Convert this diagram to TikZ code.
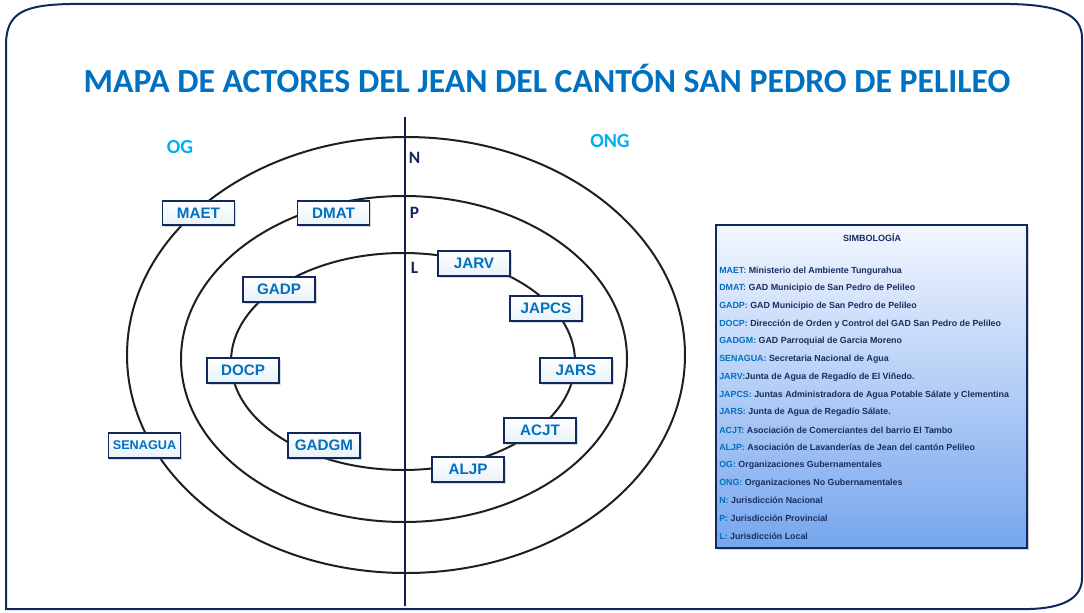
\documentclass[tikz,border=0pt]{standalone}
\usepackage{fontspec}
\setmainfont{Liberation Sans}
\newfontfamily\calibri{Carlito}
\usetikzlibrary{shadows}
\definecolor{ActorBlue}{RGB}{0,112,192}
\definecolor{SkyBlue}{RGB}{0,176,240}
\definecolor{NavyLine}{RGB}{16,40,92}
\definecolor{LegendText}{RGB}{25,45,95}
\definecolor{LegendTop}{RGB}{242,246,254}
\definecolor{LegendBottom}{RGB}{118,166,238}
\tikzset{
  actor/.style={draw=NavyLine,line width=1.3pt,minimum width=54pt,minimum height=18.5pt,inner sep=0pt,
    top color=white,bottom color=ActorBlue!9,text=ActorBlue,font=\bfseries\fontsize{11.4}{13}\selectfont,
    drop shadow={shadow xshift=1.3pt,shadow yshift=-1.3pt,opacity=0.3}},
  ring/.style={line width=1.5pt,black!88},
  level/.style={text=NavyLine,font=\calibri\bfseries\fontsize{13}{15}\selectfont},
  group/.style={text=SkyBlue,font=\calibri\bfseries\fontsize{15}{17}\selectfont},
  legline/.style={anchor=west,inner sep=0pt,text=LegendText,font=\bfseries\fontsize{6.65}{8}\selectfont}
}
\begin{document}
\begin{tikzpicture}[x=0.75pt,y=-0.75pt]
  \useasboundingbox (0,0) rectangle (1084,613);
  \draw[NavyLine,line width=1.5pt] (6,609) -- (6,45) .. controls (6,12) and (25,5) .. (70,4) -- (1010,4)
     .. controls (1060,5) and (1082,15) .. (1082,38) -- (1082,578) .. controls (1082,600) and (1060,608) .. (1030,609) -- cycle;
  \node[text=ActorBlue,font=\calibri\bfseries\fontsize{25.3}{28}\selectfont] (title) at (547,78)
     {MAPA DE ACTORES DEL JEAN DEL CANTÓN SAN PEDRO DE PELILEO};

  \draw[ring] (406,355) ellipse [x radius=279, y radius=218];
  \draw[ring] (404,359) ellipse [x radius=223, y radius=163];
  \draw[ring] (403,361.5) ellipse [x radius=172, y radius=108.5];
  \coordinate (axistop) at (405,117);
  \coordinate (axisbot) at (405,606);
  \draw[NavyLine!80!black,line width=1.8pt] (axistop) -- (axisbot);

  \node[level] (N) at (414.5,158) {N};
  \node[level] (P) at (414.5,213) {P};
  \node[level] (L) at (414.5,268) {L};
  \node[group] (OG) at (180,147) {OG};
  \node[group] (ONG) at (610,141) {ONG};

  \node[actor] (MAET) at (198.5,213) {MAET};
  \node[actor] (DMAT) at (333.5,213) {DMAT};
  \node[actor] (GADP) at (279,289.5) {GADP};
  \node[actor] (DOCP) at (243,370.5) {DOCP};
  \node[actor,font=\bfseries\fontsize{9.5}{11}\selectfont] (SENAGUA) at (144.5,445.5) {SENAGUA};
  \node[actor] (GADGM) at (324,445.5) {GADGM};
  \node[actor] (JARV) at (474,263.5) {JARV};
  \node[actor] (JAPCS) at (546,308.5) {JAPCS};
  \node[actor] (JARS) at (576,370.5) {JARS};
  \node[actor] (ACJT) at (540,430.5) {ACJT};
  \node[actor] (ALJP) at (468,469.5) {ALJP};

  \node[draw=NavyLine,line width=1.5pt,minimum width=233pt,minimum height=242pt,inner sep=0pt,
     top color=LegendTop,bottom color=LegendBottom,
     drop shadow={shadow xshift=1.5pt,shadow yshift=-1.5pt,opacity=0.35}] (simb) at (871.5,386.5) {};
  \node[text=LegendText,font=\bfseries\fontsize{6.75}{8}\selectfont] (simbtitle) at (872,238) {SIMBOLOGÍA};
  \foreach \ab/\de [count=\i] in {
      MAET:\ /Ministerio del Ambiente Tungurahua,
      DMAT:\ /GAD Municipio de San Pedro de Pelileo,
      GADP:\ /GAD Municipio de San Pedro de Pelileo,
      DOCP:\ /Dirección de Orden y Control del GAD San Pedro de Pelileo,
      GADGM:\ /GAD Parroquial de Garcia Moreno,
      SENAGUA:\ /Secretaria Nacional de Agua,
      JARV:/Junta de Agua de Regadío de El Viñedo.,
      JAPCS:\ /Juntas Administradora de Agua Potable Sálate y Clementina,
      JARS:\ /Junta de Agua de Regadío Sálate.,
      ACJT:\ /Asociación de Comerciantes del barrio El Tambo,
      ALJP:\ /Asociación de Lavanderías de Jean del cantón Pelileo,
      OG:\ /Organizaciones Gubernamentales,
      ONG:\ /Organizaciones No Gubernamentales,
      N:\ /Jurisdicción Nacional,
      P:\ /Jurisdicción Provincial,
      L:\ /Jurisdicción Local}
    \node[legline] (leg\i) at (719,{271+17.67*(\i-1)}) {{\color{ActorBlue}\ab}\de};
\end{tikzpicture}
\end{document}
